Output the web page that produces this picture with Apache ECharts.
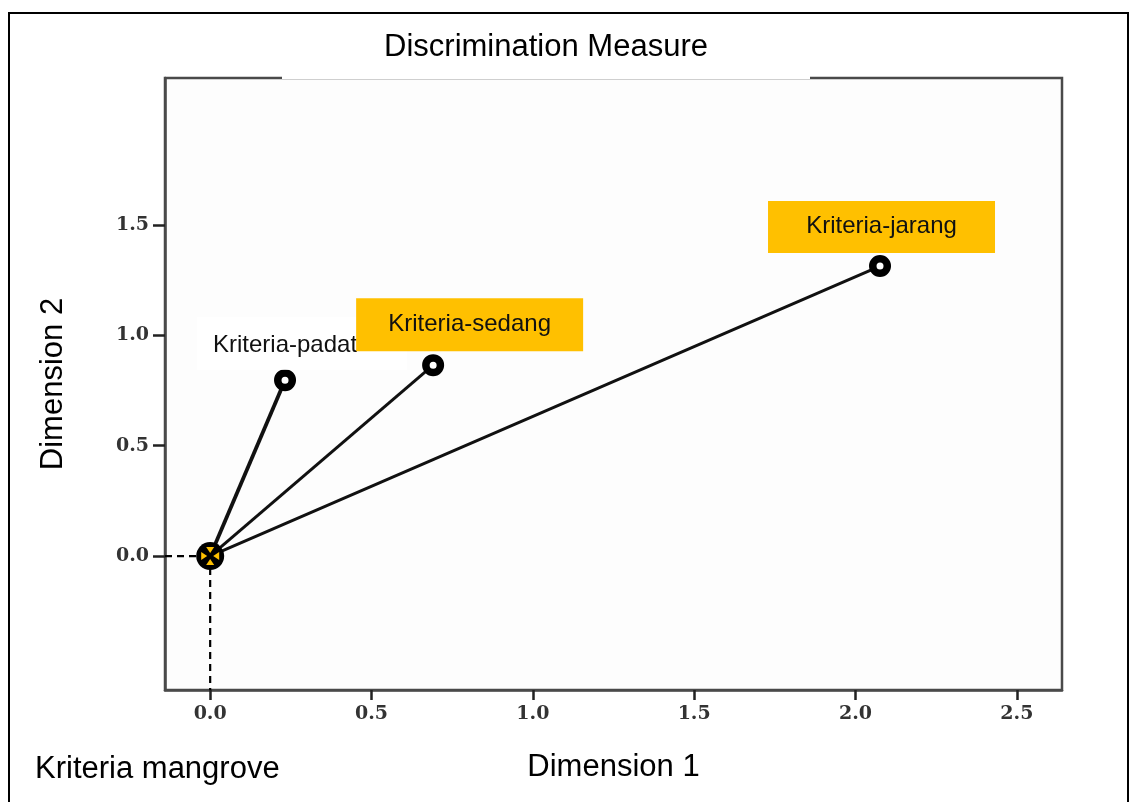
<!DOCTYPE html>
<html>
<head>
<meta charset="utf-8">
<script src="https://cdn.jsdelivr.net/npm/echarts@6/dist/echarts.min.js"></script>
<style>
html,body{margin:0;padding:0;background:#fff;}
#chart{width:1130px;height:802px;}
</style>
</head>
<body>
<div id="chart"></div>
<script>
// ---- data ----
const categories = ['Kriteria-padat', 'Kriteria-sedang', 'Kriteria-jarang'];
const dim1 = [0.232, 0.691, 2.076];
const dim2 = [0.797, 0.865, 1.314];
const originPoint = [0, 0];
const xTicks = [0, 0.5, 1.0, 1.5, 2.0, 2.5];
const yTicks = [0, 0.5, 1.0, 1.5];
const titleText = 'Discrimination Measure';
const xName = 'Dimension 1';
const yName = 'Dimension 2';
const cornerText = 'Kriteria mangrove';

// ---- layout ----
const xMin = -0.14, xMax = 2.64;
const yMin = -0.607, yMax = 2.166;
const FONT = '"Liberation Sans", Arial, sans-serif';
const TICKFONT = '"DejaVu Serif", serif';
const AXC = '#4a4a4a';
const YEL = '#FFC000';

// label boxes relative to their point (pixel offsets of box centre, box size, text offset)
const labelBoxes = [
  {dx: 0, dy: -37, w: 210, h: 53, fill: '#ffffff', tdx: 0, tdy: 2, boxDx: 17},
  {dx: 36.5, dy: -40.5, w: 227, h: 53, fill: YEL, tdx: 0, tdy: 0, boxDx: 0},
  {dx: 1.5, dy: -39, w: 227, h: 52, fill: YEL, tdx: 0, tdy: -1, boxDx: 0}
];

const chart = echarts.init(document.getElementById('chart'), null, {renderer: 'canvas'});

const series = [];
series.push({
  type: 'line', data: [[xMin, originPoint[1]], originPoint], symbol: 'none', silent: true,
  lineStyle: {color: '#000', width: 2.2, type: [7, 5]}, z: 1
});
series.push({
  type: 'line', data: [originPoint, [originPoint[0], yMin]], symbol: 'none', silent: true,
  lineStyle: {color: '#000', width: 2.2, type: [7, 5]}, z: 1
});
categories.forEach((c, i) => {
  series.push({
    type: 'line', name: c, data: [originPoint, [dim1[i], dim2[i]]], symbol: 'none', silent: true,
    lineStyle: {color: '#111', width: i === 0 ? 3.8 : 3.0}, z: 2
  });
});
series.push({
  type: 'scatter', z: 5, symbol: 'circle', symbolSize: 14.5,
  itemStyle: {color: '#fff', borderColor: '#000', borderWidth: 7.5, opacity: 1},
  data: categories.map((c, i) => ({name: c, value: [dim1[i], dim2[i]]}))
});
series.push({
  type: 'scatter', z: 6, symbol: 'circle', symbolSize: 28,
  itemStyle: {color: '#000', opacity: 1}, data: [originPoint]
});
[[0, -6, 180], [0, 6, 0], [-6, 0, -90], [6, 0, 90]].forEach(o => {
  series.push({
    type: 'scatter', z: 7, symbol: 'triangle', symbolSize: [8, 6],
    symbolOffset: [o[0], o[1]], symbolRotate: o[2],
    itemStyle: {color: YEL, opacity: 1}, data: [originPoint]
  });
});

const baseGraphic = [
  {type: 'rect', z: 100, shape: {x: 9, y: 13, width: 1119, height: 800},
   style: {fill: 'none', stroke: '#000', lineWidth: 2}},
  {type: 'rect', z: 100, shape: {x: 282, y: 22, width: 528, height: 57}, style: {fill: '#fff'}},
  {type: 'text', z: 101, x: 546, y: 47,
   style: {text: titleText, fontSize: 31, fontFamily: FONT, fill: '#000', align: 'center', verticalAlign: 'middle'}},
  {type: 'text', z: 101, x: 35, y: 769,
   style: {text: cornerText, fontSize: 31, fontFamily: FONT, fill: '#000', align: 'left', verticalAlign: 'middle'}}
];

const option = {
  backgroundColor: '#ffffff',
  animation: false,
  grid: {left: 165, top: 78, width: 897, height: 612, show: true,
         borderColor: AXC, borderWidth: 2.5, backgroundColor: '#fdfdfd'},
  xAxis: {
    type: 'value', min: xMin, max: xMax,
    name: xName, nameLocation: 'middle', nameGap: 62,
    nameTextStyle: {fontSize: 31, fontFamily: FONT, color: '#000'},
    axisLine: {show: true, onZero: false, lineStyle: {color: AXC, width: 2.5}},
    axisTick: {show: true, length: 10, customValues: xTicks, lineStyle: {color: '#222', width: 2.5}},
    axisLabel: {show: true, customValues: xTicks, margin: 15, fontSize: 19, fontWeight: 'bold',
                fontFamily: TICKFONT, color: '#333', formatter: v => v.toFixed(1)},
    splitLine: {show: false}
  },
  yAxis: {
    type: 'value', min: yMin, max: yMax,
    name: yName, nameLocation: 'middle', nameGap: 96,
    nameTextStyle: {fontSize: 31, fontFamily: FONT, color: '#000'},
    axisLine: {show: true, onZero: false, lineStyle: {color: AXC, width: 2.5}},
    axisTick: {show: true, length: 12, customValues: yTicks, lineStyle: {color: '#222', width: 2.5}},
    axisLabel: {show: true, customValues: yTicks, margin: 16, fontSize: 19, fontWeight: 'bold',
                fontFamily: TICKFONT, color: '#333', formatter: v => v.toFixed(1)},
    splitLine: {show: false}
  },
  graphic: baseGraphic,
  series: series
};
chart.setOption(option);

// label boxes anchored to the data points through the chart's own scales
const labelGraphic = [];
categories.forEach((c, i) => {
  const p = chart.convertToPixel({gridIndex: 0}, [dim1[i], dim2[i]]);
  const b = labelBoxes[i];
  const cx = p[0] + b.dx, cy = p[1] + b.dy;
  labelGraphic.push({
    type: 'rect', z: 20 + i * 2,
    shape: {x: cx + b.boxDx - b.w / 2, y: cy - b.h / 2, width: b.w, height: b.h},
    style: {fill: b.fill}
  });
  labelGraphic.push({
    type: 'text', z: 21 + i * 2, x: cx + b.tdx, y: cy + b.tdy,
    style: {text: c, fontSize: 24, fontFamily: FONT, fill: '#111', align: 'center', verticalAlign: 'middle'}
  });
});
chart.setOption({graphic: baseGraphic.concat(labelGraphic)});
</script>
</body>
</html>
